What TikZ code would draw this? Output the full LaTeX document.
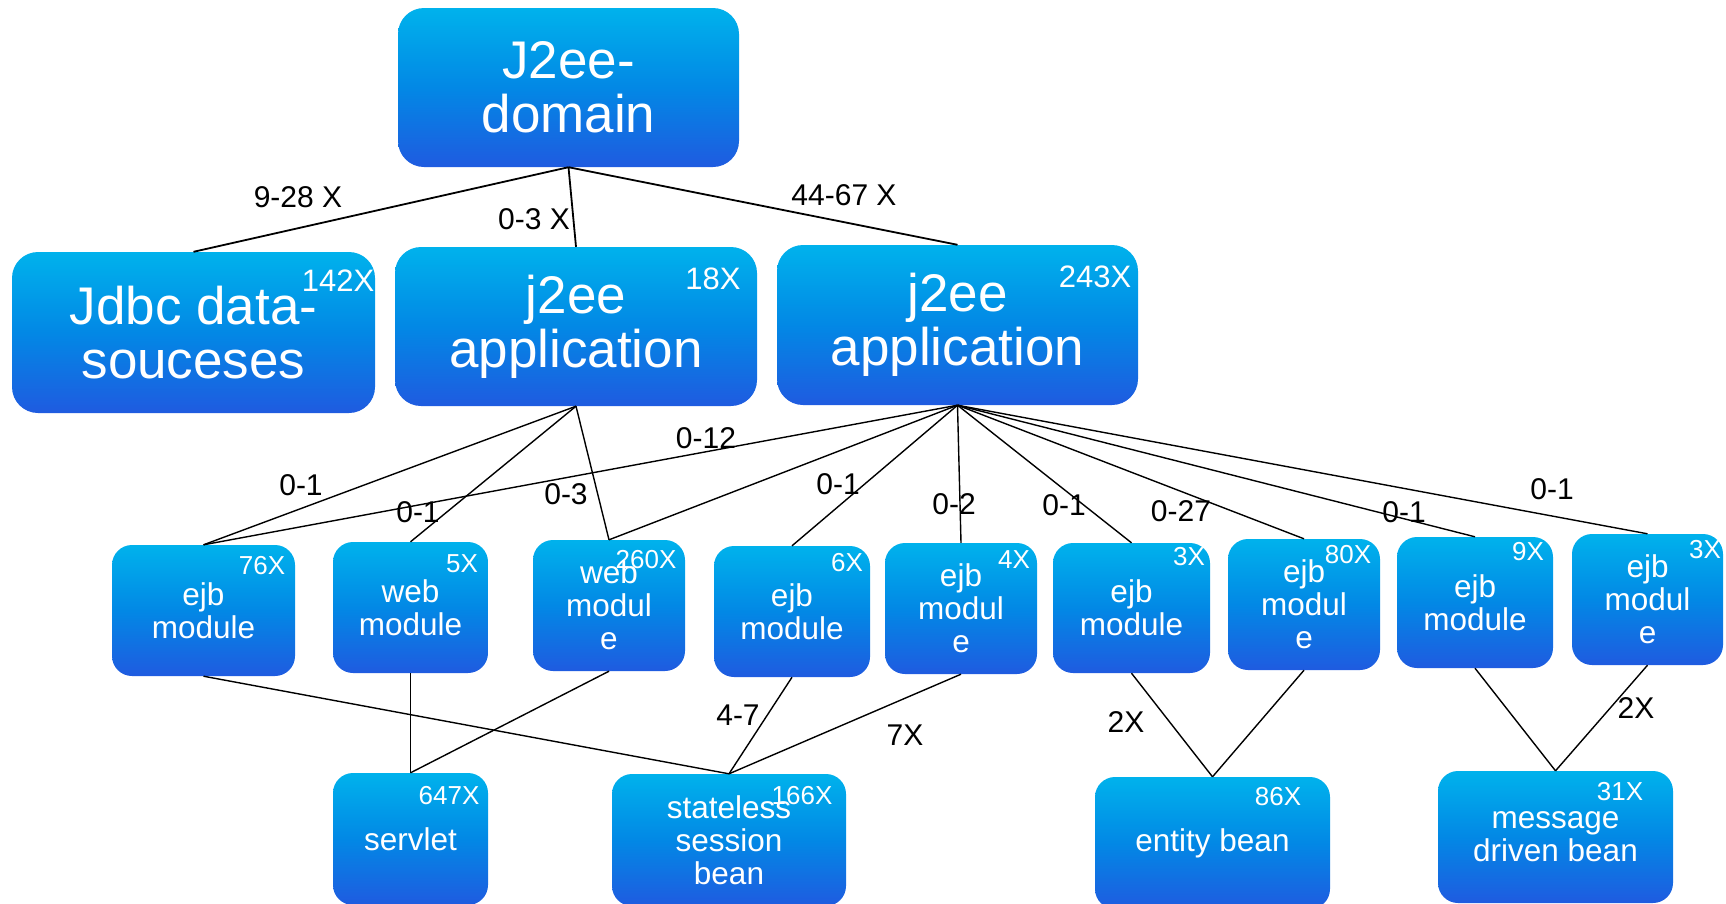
\documentclass[tikz,border=0pt]{standalone}
\usepackage{fontspec}
\setmainfont{Liberation Sans}
\definecolor{boxtop}{RGB}{0,178,236}
\definecolor{boxmid}{RGB}{2,136,229}
\definecolor{boxbot}{RGB}{31,91,224}
\tikzset{
  box/.style={rectangle, top color=boxtop, bottom color=boxbot, middle color=boxmid,
    text=white, align=center, inner sep=0pt},
  bigbox/.style={box, rounded corners=26pt, font=\fontsize{53}{54}\selectfont},
  smallbox/.style={box, rounded corners=20pt, font=\fontsize{31.5}{33}\selectfont},
  bigcount/.style={text=white, inner sep=0pt, font=\fontsize{31}{31}\selectfont},
  count/.style={text=white, inner sep=0pt, font=\fontsize{26}{26}\selectfont},
  elabel/.style={text=black, inner sep=0pt, font=\fontsize{30}{30}\selectfont},
  toplink/.style={draw=black, line width=1.8pt},
  link/.style={draw=black, line width=1.4pt}
}
\begin{document}
\begin{tikzpicture}[x=1pt,y=-1pt]
\useasboundingbox (0,0) rectangle (1726,903);

% top level
\node[bigbox, minimum width=341pt, minimum height=159pt] (dom) at (568.5,87.5) {J2ee-\\domain};

% second level
\node[bigbox, minimum width=363pt, minimum height=161pt] (jdbc) at (193.5,332.5) {Jdbc data-\\souceses};
\node[bigbox, minimum width=362pt, minimum height=159pt] (app1) at (576,326.5) {j2ee\\application};
\node[bigbox, minimum width=361pt, minimum height=160pt] (app2) at (957.5,325) {j2ee\\application};

% modules
\node[smallbox, minimum width=183pt, minimum height=131pt] (m1) at (203.5,610.5) {ejb\\module};
\node[smallbox, minimum width=155pt, minimum height=131pt] (m2) at (410.5,607.5) {web\\module};
\node[smallbox, minimum width=152pt, minimum height=131pt] (m3) at (609,605.5) {web\\modul\\e};
\node[smallbox, minimum width=156pt, minimum height=131pt] (m4) at (792,611.5) {ejb\\module};
\node[smallbox, minimum width=152pt, minimum height=131pt] (m5) at (961,608.5) {ejb\\modul\\e};
\node[smallbox, minimum width=157pt, minimum height=130pt] (m6) at (1131.5,608) {ejb\\module};
\node[smallbox, minimum width=152pt, minimum height=131pt] (m7) at (1304,604.5) {ejb\\modul\\e};
\node[smallbox, minimum width=156pt, minimum height=131pt] (m8) at (1475,602.5) {ejb\\module};
\node[smallbox, minimum width=151pt, minimum height=131pt] (m9) at (1647.5,599.5) {ejb\\modul\\e};

% components
\node[smallbox, minimum width=155pt, minimum height=132pt] (srv) at (410.5,839) {servlet};
\node[smallbox, minimum width=234pt, minimum height=132pt] (ssb) at (729,840) {stateless\\session\\bean};
\node[smallbox, minimum width=235pt, minimum height=132pt] (ent) at (1212.5,843) {entity bean};
\node[smallbox, minimum width=235pt, minimum height=132pt] (mdb) at (1555.5,837) {message\\driven bean};

% instance counts
\node[bigcount] (k1) at (338,281) {142X};
\node[bigcount] (k2) at (713,279) {18X};
\node[bigcount] (k3) at (1095,277) {243X};
\node[count] (k4) at (262,566) {76X};
\node[count] (k5) at (462,564) {5X};
\node[count] (k6) at (646,560) {260X};
\node[count] (k7) at (847,563) {6X};
\node[count] (k8) at (1014,560) {4X};
\node[count] (k9) at (1189,557) {3X};
\node[count] (k10) at (1348,555) {80X};
\node[count] (k11) at (1528,552) {9X};
\node[count] (k12) at (1705,550) {3X};
\node[count] (k13) at (449,796) {647X};
\node[count] (k14) at (802,796) {166X};
\node[count] (k15) at (1278,797) {86X};
\node[count] (k16) at (1620,792) {31X};

% connectors
\draw[toplink] (dom.south) -- (jdbc.north);
\draw[toplink] (dom.south) -- (app1.north);
\draw[toplink] (dom.south) -- (app2.north);

\draw[link] (app1.south) -- (m1.north);
\draw[link] (app1.south) -- (m2.north);
\draw[link] (app1.south) -- (m3.north);

\draw[link] (app2.south) -- (m1.north);
\draw[link] (app2.south) -- (m3.north);
\draw[link] (app2.south) -- (m4.north);
\draw[link] (app2.south) -- (m5.north);
\draw[link] (app2.south) -- (m6.north);
\draw[link] (app2.south) -- (m7.north);
\draw[link] (app2.south) -- (m8.north);
\draw[link] (app2.south) -- (m9.north);

\draw[link] (m1.south) -- (ssb.north);
\draw[link] (m2.south) -- (srv.north);
\draw[link] (m3.south) -- (srv.north);
\draw[link] (m4.south) -- (ssb.north);
\draw[link] (m5.south) -- (ssb.north);
\draw[link] (m6.south) -- (ent.north);
\draw[link] (m7.south) -- (ent.north);
\draw[link] (m8.south) -- (mdb.north);
\draw[link] (m9.south) -- (mdb.north);

% multiplicities
\node[elabel] (l1) at (298,197) {9-28 X};
\node[elabel] (l2) at (534,219) {0-3 X};
\node[elabel] (l3) at (844,195) {44-67 X};
\node[elabel] (l4) at (301,485) {0-1};
\node[elabel] (l5) at (418,512) {0-1};
\node[elabel] (l6) at (566,494) {0-3};
\node[elabel] (l7) at (706,438) {0-12};
\node[elabel] (l8) at (838,484) {0-1};
\node[elabel] (l9) at (954,504) {0-2};
\node[elabel] (l10) at (1064,505) {0-1};
\node[elabel] (l11) at (1181,511) {0-27};
\node[elabel] (l12) at (1404,512) {0-1};
\node[elabel] (l13) at (1552,489) {0-1};
\node[elabel] (l14) at (738,715) {4-7};
\node[elabel] (l15) at (905,735) {7X};
\node[elabel] (l16) at (1126,722) {2X};
\node[elabel] (l17) at (1636,708) {2X};
\end{tikzpicture}
\end{document}
